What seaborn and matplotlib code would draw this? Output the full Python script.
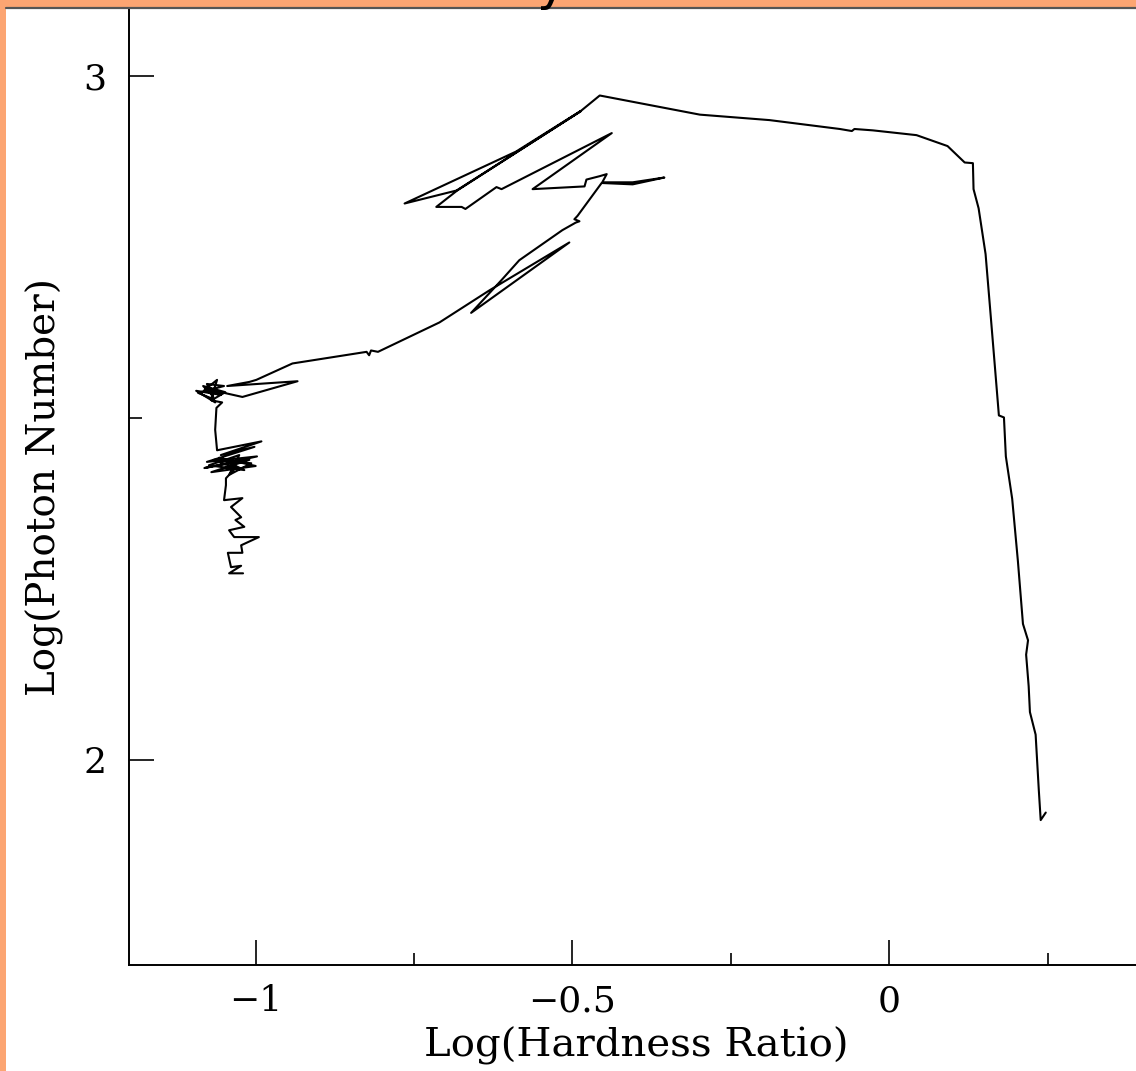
import matplotlib
matplotlib.use("Agg")
import matplotlib.pyplot as plt
from matplotlib.patches import Rectangle
from matplotlib.lines import Line2D
import pandas as pd
import seaborn as sns

# Hardness-intensity track, in path order (log hardness ratio, log photon number)
log_hardness = [
    0.247, 0.239, 0.236, 0.231, 0.222, 0.220, 0.216, 0.219, 0.211, 0.203,
    0.194, 0.184, 0.181, 0.173, 0.167, 0.159, 0.152, 0.141, 0.133, 0.132,
    0.119, 0.092, 0.043, -0.026, -0.055, -0.059, -0.078, -0.189, -0.299, -0.457,
    -0.486, -0.589, -0.765, -0.683, -0.487, -0.682, -0.715, -0.675, -0.669, -0.620,
    -0.612, -0.438, -0.563, -0.481, -0.478, -0.457, -0.446, -0.453, -0.405, -0.355,
    -0.405, -0.454, -0.492, -0.497, -0.489, -0.495, -0.516, -0.584, -0.612, -0.660,
    -0.505, -0.631, -0.710, -0.807, -0.818, -0.821, -0.825, -0.942, -0.999, -1.010,
    -1.045, -0.934, -1.021, -1.050,
    -1.081, -1.061, -1.070, -1.091, -1.050, -1.077, -1.064, -1.094, -1.055, -1.074,
    -1.067, -1.083, -1.048, -1.070,
    -1.053, -1.062, -1.064, -1.061,
    -0.991, -1.055, -1.002, -1.077, -0.998, -1.081, -1.010, -1.070, -1.000, -1.058,
    -1.018, -1.074, -1.026, -1.042, -1.007, -1.066, -1.032, -1.047,
    -1.047, -1.050, -1.021, -1.039, -1.023, -1.032, -1.018, -1.042, -1.034, -0.995,
    -1.023, -1.021, -1.044, -1.039, -1.023, -1.042, -1.020,
]
log_photons = [
    1.923, 1.912, 1.956, 2.037, 2.070, 2.108, 2.154, 2.175, 2.199, 2.291,
    2.382, 2.444, 2.501, 2.504, 2.572, 2.662, 2.740, 2.807, 2.835, 2.873,
    2.874, 2.898, 2.914, 2.921, 2.923, 2.920, 2.923, 2.936, 2.944, 2.972,
    2.950, 2.890, 2.814, 2.833, 2.949, 2.833, 2.809, 2.809, 2.806, 2.838,
    2.835, 2.917, 2.835, 2.839, 2.849, 2.854, 2.857, 2.845, 2.845, 2.852,
    2.842, 2.844, 2.796, 2.791, 2.788, 2.786, 2.775, 2.731, 2.702, 2.654,
    2.757, 2.687, 2.640, 2.597, 2.599, 2.592, 2.597, 2.580, 2.556, 2.553,
    2.547, 2.554, 2.531, 2.537,
    2.541, 2.556, 2.529, 2.537, 2.547, 2.550, 2.523, 2.540, 2.534, 2.545,
    2.532, 2.547, 2.538, 2.526,
    2.523, 2.515, 2.483, 2.453,
    2.466, 2.446, 2.458, 2.436, 2.444, 2.427, 2.439, 2.421, 2.430, 2.442,
    2.424, 2.431, 2.446, 2.417, 2.434, 2.439, 2.427, 2.412,
    2.402, 2.380, 2.383, 2.370, 2.355, 2.351, 2.341, 2.336, 2.326, 2.326,
    2.314, 2.303, 2.303, 2.282, 2.284, 2.273, 2.273,
]

x_major_ticks = [-1.0, -0.5, 0.0]
x_major_labels = ["\u22121", "\u22120.5", "0"]
x_minor_ticks = [-0.75, -0.25, 0.25]
y_major_ticks = [2.0, 3.0]
y_major_labels = ["2", "3"]
y_minor_ticks = [2.5]

sns.set_theme(style="ticks")
plt.rcParams["font.family"] = ["DejaVu Serif", "DejaVu Sans"]
plt.rcParams["axes.linewidth"] = 1.4

W, H = 1136, 1071
fig = plt.figure(figsize=(W / 100, H / 100), dpi=100)
fig.patch.set_facecolor("white")

# slide frame: orange strips along the left and top edges
frame_color = "#FCA572"
fig.patches.append(Rectangle((0, 0), 6 / W, 1, transform=fig.transFigure,
                             facecolor=frame_color, edgecolor="none", zorder=0))
fig.patches.append(Rectangle((0, 1 - 8 / H), 1, 8 / H, transform=fig.transFigure,
                             facecolor=frame_color, edgecolor="none", zorder=0))
# descender of the slide title peeking in at the top
fig.text(536 / W, 1.0, "y", fontsize=36, color="black", ha="left",
         va="baseline", family="DejaVu Sans", zorder=5)

ax = fig.add_axes([129 / W, 106 / H, 1013.7 / W, 957 / H])
track = pd.DataFrame({"hardness": log_hardness, "photons": log_photons})
sns.lineplot(data=track, x="hardness", y="photons", sort=False, estimator=None,
             color="black", linewidth=1.5, ax=ax)

ax.set_xlim(-1.2, 0.4)
ax.set_ylim(1.70, 3.10)
ax.set_xticks(x_major_ticks)
ax.set_xticklabels(x_major_labels)
ax.set_xticks(x_minor_ticks, minor=True)
ax.set_yticks(y_major_ticks)
ax.set_yticklabels(y_major_labels)
ax.set_yticks(y_minor_ticks, minor=True)

ax.tick_params(which="major", direction="in", length=18, width=1.2,
               labelsize=26, colors="black", pad=14)
ax.tick_params(which="minor", direction="in", length=9, width=1.2, colors="black")
ax.tick_params(axis="y", which="major", pad=16)
ax.tick_params(top=False, right=False, which="both")

for side in ("top", "right"):
    ax.spines[side].set_visible(False)
for side in ("left", "bottom"):
    ax.spines[side].set_color("black")

# thin rule across the top of the frame
fig.add_artist(Line2D([6 / W, 1], [1 - 8 / H, 1 - 8 / H], transform=fig.transFigure,
                      color="#555555", linewidth=1.6, zorder=3))

ax.set_xlabel("Log(Hardness Ratio)", fontsize=29, labelpad=6, color="black")
ax.set_ylabel("Log(Photon Number)", fontsize=28, labelpad=14, color="black")

fig.savefig("out.png", dpi=100, facecolor="white")
